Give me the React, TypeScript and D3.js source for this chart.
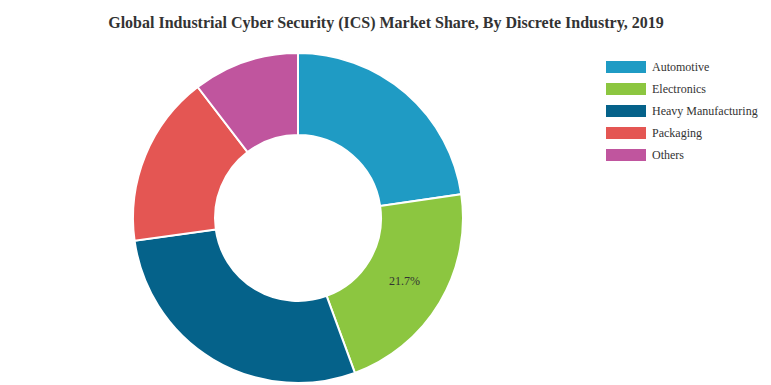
import React from "react";
import * as d3 from "d3";

const categories = ["Automotive", "Electronics", "Heavy Manufacturing", "Packaging", "Others"];
const shares = [22.7, 21.7, 28.4, 16.8, 10.4];
const colors = ["#1f9bc4", "#8cc640", "#05628a", "#e45653", "#c0559e"];
const shownLabels = ["Electronics"];
const title = "Global Industrial Cyber Security (ICS) Market Share, By Discrete Industry, 2019";

export default function App() {
  const W = 771, H = 385;
  const cx = 298, cy = 218, R = 165, r = 83;
  const data = categories.map((c, i) => ({ c, v: shares[i], color: colors[i] }));
  const pie = d3.pie<any>().value((d) => d.v).sort(null);
  const arcs = pie(data);
  const arc = d3.arc<any>().innerRadius(r).outerRadius(R);
  return (
    <svg width={W} height={H} style={{ position: "absolute", left: 0, top: 0, fontFamily: "'Liberation Serif', 'Times New Roman', serif" }}>
      <rect width={W} height={H} fill="#fff" />
      <text x={386} y={28} textAnchor="middle" fontSize={16} fontWeight="bold" fill="#333">{title}</text>
      <g transform={`translate(${cx},${cy})`}>
        {arcs.map((a, i) => (
          <path key={i} d={arc(a) as string} fill={a.data.color} stroke="#fff" strokeWidth={2} />
        ))}
        {arcs.filter((a) => shownLabels.includes(a.data.c)).map((a, i) => {
          const [x, y] = arc.centroid(a);
          return (
            <text key={i} x={x} y={y} textAnchor="middle" dominantBaseline="central" fontSize={12} fill="#333">
              {a.data.v.toFixed(1)}%
            </text>
          );
        })}
      </g>
      <g>
        {categories.map((c, i) => (
          <g key={c} transform={`translate(606,${61 + i * 22})`}>
            <rect width={40} height={12} fill={colors[i]} />
            <text x={46} y={6} dominantBaseline="central" fontSize={12} fill="#333">{c}</text>
          </g>
        ))}
      </g>
    </svg>
  );
}
